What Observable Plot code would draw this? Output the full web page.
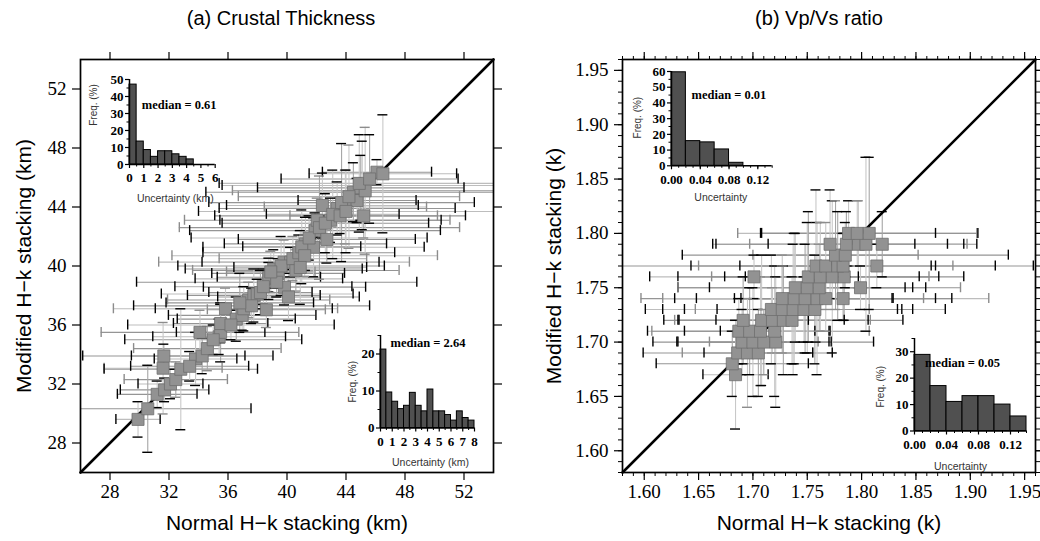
<!DOCTYPE html>
<html><head><meta charset="utf-8">
<script src="https://cdn.jsdelivr.net/npm/d3@7"></script>
<script src="https://cdn.jsdelivr.net/npm/@observablehq/plot@0.6"></script>
<style>
html,body{margin:0;padding:0;background:#fff;}
#root{position:relative;width:1040px;height:541px;overflow:hidden;background:#fff;}
#root > div{position:absolute;}
</style></head><body><div id="root"></div>
<script>
// ---------- Panel (a) Crustal thickness (km) ----------
const thickNormal = [29.9,30.56,31.2,31.6,31.65,31.7,32.1,32.46,32.8,33.8,34.25,34.1,35.4,35.5,35.5,35.83,36.56,36.96,37.07,37.4,37.75,37.98,38.2,38.6,38.77,38.77,39.1,39.8,39.83,40.1,40.24,40.6,41.25,41.8,41.9,42.05,42.4,42.95,43.4,43.96,44.5,44.75,45.1,45.2,46.1,46.5,45.0,45.3,38.4,39.4,39.6,40.4,40.8,41.0,41.5,42.2,42.6,43.1,43.7,44.2,44.9,45.6,43.6,41.2,39.3,37.6,36.2,34.6,33.4,40.9,42.7,38.9,44.0,36.8,35.0];
const thickModified = [29.6,30.32,31.3,33.07,33.9,31.6,32.0,32.3,33.0,33.7,33.9,35.5,35.2,35.5,36.1,37.1,36.4,36.65,37.1,37.7,38.0,38.1,38.2,37.03,39.13,39.24,39.8,40.26,38.56,37.9,40.26,39.7,41.5,41.27,42.4,43.1,44.1,43.1,43.9,44.0,45.0,44.44,45.46,43.4,46.36,46.25,45.3,45.1,38.6,39.5,40.0,40.5,40.9,41.3,41.9,42.6,42.9,43.5,44.3,44.7,45.6,45.9,43.4,40.7,38.9,37.3,36.0,34.4,33.2,39.9,41.8,39.6,43.7,37.5,35.0];
const thickNormalErr = [1.5,7.0,2.7,4.0,5.5,3.0,2.2,3.5,5.2,2.8,4.8,6.7,4.5,3.0,3.2,7.6,4.0,5.0,6.0,5.5,4.5,6.5,3.5,4.0,5.0,3.5,6.0,8.5,5.5,4.8,6.0,7.0,5.5,7.5,8.5,9.0,6.5,7.5,8.0,5.5,10.0,4.0,9.5,5.0,3.7,5.0,7.0,9.0,6.0,4.5,7.0,5.0,6.5,4.0,8.0,9.5,7.0,4.5,9.0,7.5,9.5,6.0,8.5,9.0,9.5,8.0,7.0,5.0,4.0,4.5,6.0,3.0,10.0,5.0,6.0];
const thickModifiedErr = [1.2,2.95,0.9,3.1,0.8,0.8,1.0,1.2,4.1,1.8,1.2,1.5,1.2,2.0,1.3,1.4,1.5,1.0,1.5,1.2,1.8,1.0,1.5,1.2,1.4,1.0,1.3,1.5,1.2,1.6,1.0,1.4,1.8,2.0,1.2,1.5,2.2,1.5,1.8,2.5,2.0,1.5,3.0,1.5,0.85,4.0,2.2,4.3,1.2,1.0,2.0,1.5,1.2,2.5,1.5,3.5,2.0,3.0,4.0,3.5,3.3,3.0,1.2,1.4,1.0,1.2,1.0,1.5,1.0,2.5,1.6,1.4,2.8,2.0,1.0];
const thickDomain = [26, 54];
const thickTicks = [28, 32, 36, 40, 44, 48, 52];

// ---------- Panel (b) Vp/Vs ratio ----------
const vpvsNormal = [1.684,1.681,1.686,1.695,1.705,1.690,1.700,1.710,1.721,1.687,1.697,1.707,1.720,1.691,1.708,1.718,1.728,1.736,1.717,1.727,1.737,1.747,1.757,1.727,1.738,1.748,1.759,1.767,1.783,1.739,1.750,1.761,1.799,1.701,1.751,1.762,1.773,1.784,1.758,1.767,1.778,1.783,1.814,1.776,1.785,1.771,1.786,1.797,1.804,1.819,1.788,1.796,1.807];
const vpvsModified = [1.67,1.68,1.69,1.69,1.69,1.70,1.70,1.70,1.70,1.71,1.71,1.71,1.71,1.72,1.72,1.72,1.72,1.72,1.73,1.73,1.73,1.73,1.73,1.74,1.74,1.74,1.74,1.74,1.74,1.75,1.75,1.75,1.75,1.76,1.76,1.76,1.76,1.76,1.77,1.77,1.77,1.77,1.77,1.78,1.78,1.79,1.79,1.79,1.79,1.79,1.80,1.80,1.80];
const vpvsNormalErr = [0.03,0.07,0.087,0.06,0.05,0.082,0.07,0.05,0.09,0.084,0.06,0.10,0.05,0.06,0.076,0.09,0.11,0.07,0.116,0.08,0.10,0.13,0.09,0.13,0.09,0.12,0.07,0.15,0.10,0.108,0.09,0.13,0.06,0.096,0.12,0.10,0.08,0.11,0.20,0.117,0.09,0.14,0.05,0.076,0.15,0.108,0.12,0.10,0.09,0.03,0.08,0.11,0.10];
const vpvsModifiedErr = [0.05,0.03,0.02,0.05,0.04,0.03,0.05,0.03,0.06,0.03,0.04,0.05,0.06,0.04,0.06,0.03,0.05,0.04,0.05,0.04,0.06,0.03,0.05,0.04,0.06,0.05,0.07,0.03,0.02,0.05,0.06,0.04,0.02,0.02,0.06,0.05,0.07,0.04,0.07,0.04,0.05,0.03,0.02,0.05,0.03,0.05,0.03,0.04,0.08,0.03,0.03,0.03,0.07];
const vpvsDomain = [1.58, 1.96];
const vpvsTicks = [1.60, 1.65, 1.70, 1.75, 1.80, 1.85, 1.90, 1.95];

// ---------- Inset histograms ----------
const histThickTopEdges = [0,0.5,1,1.5,2,2.5,3,3.5,4,4.5];
const histThickTopFreq = [47,13.5,8.5,4.5,7.8,7.8,6,4.5,3];
const histThickBotEdges = [0,0.5,1,1.5,2,2.5,3,3.5,4,4.5,5,5.5,6,6.5,7,7.5,8];
const histThickBotFreq = [21.2,9.6,7.1,5.1,6,9.5,6,4.5,10.4,4.5,4.5,3.5,2,4.5,2.7,2];
const histVpvsTopEdges = [0,0.02,0.04,0.06,0.08,0.10];
const histVpvsTopFreq = [59.5,15.7,14.9,10.4,1.9];
const histVpvsBotEdges = [0,0.02,0.04,0.06,0.08,0.10,0.12,0.14];
const histVpvsBotFreq = [28.8,17,11,13.2,13.2,10,5.5];

const root = document.getElementById("root");
function place(svg, left, top) {
  const div = document.createElement("div");
  div.style.left = left + "px";
  div.style.top = top + "px";
  div.appendChild(svg);
  root.appendChild(div);
}

const FRAME = 413, MT = 59, MB = 69;
const SANS = "Liberation Sans";
const NARROW = "Liberation Sans Narrow";
const SERIF = "Liberation Serif";

function mainPanel(o) {
  const [lo, hi] = o.domain;
  const pxPer = FRAME / (hi - lo);
  const cap = 5 / pxPer;
  const clamp = v => Math.max(lo, Math.min(hi, v));
  const pts = o.x.map((x, i) => ({x, y: o.y[i], ex: o.ex[i], ey: o.ey[i], i}));
  const hStroke = d => (d.i % 3 === 0 ? "#bdbdbd" : "#959595");
  const vStroke = d => (d.i % 3 === 1 ? "#a6a6a6" : "#c8c8c8");
  const capStroke = d => (d.i % 4 === 3 ? "#8c8c8c" : "#000000");
  const noLab = () => "";
  const marks = [
    Plot.ruleY(pts, {y: "y", x1: d => clamp(d.x - d.ex), x2: d => clamp(d.x + d.ex), stroke: hStroke, strokeWidth: 1.1}),
    Plot.ruleX(pts, {x: "x", y1: d => clamp(d.y - d.ey), y2: d => clamp(d.y + d.ey), stroke: vStroke, strokeWidth: 1.1}),
    Plot.ruleX(pts.filter(d => d.x - d.ex > lo), {x: d => d.x - d.ex, y1: d => d.y - cap, y2: d => d.y + cap, stroke: capStroke, strokeWidth: 1.4}),
    Plot.ruleX(pts.filter(d => d.x + d.ex < hi), {x: d => d.x + d.ex, y1: d => d.y - cap, y2: d => d.y + cap, stroke: capStroke, strokeWidth: 1.4}),
    Plot.ruleY(pts.filter(d => d.y - d.ey > lo), {y: d => d.y - d.ey, x1: d => d.x - cap, x2: d => d.x + cap, stroke: capStroke, strokeWidth: 1.4}),
    Plot.ruleY(pts.filter(d => d.y + d.ey < hi), {y: d => d.y + d.ey, x1: d => d.x - cap, x2: d => d.x + cap, stroke: capStroke, strokeWidth: 1.4}),
    Plot.line(o.domain, {x: d => d, y: d => d, stroke: "#000", strokeWidth: 2.6}),
    Plot.dot(pts, {x: "x", y: "y", symbol: "square", r: 6.8, fill: "#929292", stroke: "#6e6e6e", strokeWidth: 0.8}),
    Plot.frame({stroke: "#000", strokeWidth: 1.7}),
    Plot.axisX(o.ticks, {anchor: "bottom", tickSize: 8, tickPadding: 4, tickFormat: o.fmt, label: null, strokeWidth: 1.2}),
    Plot.axisX(o.ticks, {anchor: "top", tickSize: 8, tickFormat: noLab, label: null, strokeWidth: 1.2}),
    Plot.axisY(o.ticks, {anchor: "left", tickSize: 8, tickPadding: 6, tickFormat: o.fmt, label: null, strokeWidth: 1.2}),
    Plot.axisY(o.ticks, {anchor: "right", tickSize: 8, tickFormat: noLab, label: null, strokeWidth: 1.2}),
    Plot.text([o.title], {frameAnchor: "top", dy: -41, dx: o.titleDx, text: d => d, textAnchor: "middle", lineAnchor: "middle", fontFamily: SANS, fontSize: 20}),
    Plot.text([o.xlabel], {frameAnchor: "bottom", dy: 51, text: d => d, textAnchor: "middle", lineAnchor: "middle", fontFamily: SANS, fontSize: 21}),
    Plot.text([o.ylabel], {frameAnchor: "left", dx: o.ylabelDx, rotate: -90, text: d => d, textAnchor: "middle", lineAnchor: "middle", fontFamily: SANS, fontSize: 21})
  ];
  if (o.minor) {
    for (const anchor of ["top", "bottom"]) marks.push(Plot.axisX(o.minor, {anchor, tickSize: 4, tickFormat: noLab, label: null, strokeWidth: 1}));
    for (const anchor of ["left", "right"]) marks.push(Plot.axisY(o.minor, {anchor, tickSize: 4, tickFormat: noLab, label: null, strokeWidth: 1}));
  }
  const svg = Plot.plot({
    width: o.ml + FRAME + o.mr, height: MT + FRAME + MB,
    marginLeft: o.ml, marginRight: o.mr, marginTop: MT, marginBottom: MB,
    x: {domain: o.domain, axis: null},
    y: {domain: o.domain, axis: null},
    color: {type: "identity"},
    style: {fontFamily: SERIF, fontSize: "19px", background: "transparent", overflow: "visible", maxWidth: "none"},
    marks
  });
  place(svg, o.left, 0);
}

function inset(o) {
  const ml = 50, mr = 14, mt = 14, mb = 50;
  const fw = o.fx1 - o.fx0, fh = o.fy1 - o.fy0;
  const bars = o.freq.map((f, i) => ({a: o.edges[i], b: o.edges[i + 1], f}));
  const noLab = () => "";
  const svg = Plot.plot({
    width: ml + fw + mr, height: mt + fh + mb,
    marginLeft: ml, marginRight: mr, marginTop: mt, marginBottom: mb,
    x: {domain: o.xDomain, axis: null},
    y: {domain: o.yDomain, axis: null},
    style: {fontFamily: NARROW, fontSize: "13px", fontWeight: "bold", background: "transparent", overflow: "visible", maxWidth: "none"},
    marks: [
      Plot.rect(bars, {x1: "a", x2: "b", y1: () => 0, y2: "f", fill: "#505050", stroke: "#000", strokeWidth: 1}),
      Plot.ruleY([o.yDomain[0]], {stroke: "#000", strokeWidth: 1.5}),
      Plot.ruleX([o.xDomain[0]], {stroke: "#000", strokeWidth: 1.5}),
      Plot.axisY(o.yMajor, {anchor: "left", tickSize: 4, tickPadding: 2, label: null, strokeWidth: 1.2}),
      Plot.axisY(o.yMinor, {anchor: "left", tickSize: 2.5, tickFormat: noLab, label: null, strokeWidth: 1}),
      Plot.axisX(o.xMajor, {anchor: "bottom", tickSize: 4, tickPadding: 4.5, tickFormat: o.fmt, label: null, strokeWidth: 1.2}),
      Plot.axisX(o.xMinor, {anchor: "bottom", tickSize: 2.5, tickFormat: noLab, label: null, strokeWidth: 1}),
      Plot.text([o.median], {frameAnchor: "top-left", dx: o.medDx, dy: o.medDy, text: d => d, textAnchor: "middle", lineAnchor: "middle", fontFamily: SERIF, fontWeight: "bold", fontSize: 12.5, fill: "#000"}),
      Plot.text(["Freq. (%)"], {frameAnchor: "left", dx: o.freqDx, dy: o.freqDy, rotate: -90, text: d => d, textAnchor: "middle", lineAnchor: "middle", fontFamily: SANS, fontWeight: "normal", fontSize: 10, fill: "#333"}),
      Plot.text([o.xlabel], {frameAnchor: "bottom", dx: o.uncDx, dy: o.uncDy, text: d => d, textAnchor: "middle", lineAnchor: "middle", fontFamily: SANS, fontWeight: "normal", fontSize: 10.5, fill: "#333"})
    ]
  });
  place(svg, o.fx0 - ml, o.fy0 - mt);
}

mainPanel({
  left: 0, ml: 80, mr: 27,
  x: thickNormal, y: thickModified, ex: thickNormalErr, ey: thickModifiedErr,
  domain: thickDomain, ticks: thickTicks, fmt: d => String(d),
  title: "(a) Crustal Thickness", titleDx: -6,
  xlabel: "Normal H\u2212k stacking (km)", ylabel: "Modified H\u2212k stacking (km)", ylabelDx: -56
});
mainPanel({
  left: 520, ml: 102, mr: 5,
  x: vpvsNormal, y: vpvsModified, ex: vpvsNormalErr, ey: vpvsModifiedErr,
  domain: vpvsDomain, ticks: vpvsTicks, fmt: d3.format(".2f"),
  minor: d3.range(158, 197).map(v => v / 100),
  title: "(b) Vp/Vs ratio", titleDx: -10,
  xlabel: "Normal H\u2212k stacking (k)", ylabel: "Modified H\u2212k stacking (k)", ylabelDx: -68
});

const half = n => d3.range(1, n * 2, 2).map(v => v / 2);
const hund = (a, b) => d3.range(a, b + 1).map(v => v / 100);

inset({
  fx0: 129.3, fx1: 215, fy0: 79.3, fy1: 164.3,
  xDomain: [0, 6], yDomain: [0, 50], edges: histThickTopEdges, freq: histThickTopFreq,
  yMajor: [0, 10, 20, 30, 40, 50], yMinor: [5, 15, 25, 35, 45],
  xMajor: [0, 1, 2, 3, 4, 5, 6], xMinor: half(6), fmt: d => String(d),
  median: "median = 0.61", medDx: 49.7, medDy: 25.7,
  freqDx: -36, freqDy: -17, xlabel: "Uncertainty (km)", uncDx: 3, uncDy: 34
});
inset({
  fx0: 380, fx1: 474, fy0: 334.5, fy1: 427,
  xDomain: [0, 8], yDomain: [0, 25], edges: histThickBotEdges, freq: histThickBotFreq,
  yMajor: [0, 10, 20], yMinor: [5, 15, 25],
  xMajor: [0, 1, 2, 3, 4, 5, 6, 7, 8], xMinor: half(8), fmt: d => String(d),
  median: "median = 2.64", medDx: 47.5, medDy: 7.5,
  freqDx: -28, freqDy: 0, xlabel: "Uncertainty (km)", uncDx: 3, uncDy: 35
});
inset({
  fx0: 671, fx1: 771.7, fy0: 71, fy1: 165.3,
  xDomain: [0, 0.14], yDomain: [0, 60], edges: histVpvsTopEdges, freq: histVpvsTopFreq,
  yMajor: [0, 10, 20, 30, 40, 50, 60], yMinor: [5, 15, 25, 35, 45, 55],
  xMajor: [0, 0.04, 0.08, 0.12], xMinor: hund(1, 14), fmt: d3.format(".2f"),
  median: "median = 0.01", medDx: 57.5, medDy: 24,
  freqDx: -34, freqDy: -1, xlabel: "Uncertainty", uncDx: -1, uncDy: 32
});
inset({
  fx0: 914, fx1: 1026, fy0: 337.5, fy1: 430,
  xDomain: [0, 0.14], yDomain: [0, 35], edges: histVpvsBotEdges, freq: histVpvsBotFreq,
  yMajor: [0, 10, 20, 30], yMinor: [5, 15, 25, 35],
  xMajor: [0, 0.04, 0.08, 0.12], xMinor: hund(1, 14), fmt: d3.format(".2f"),
  median: "median = 0.05", medDx: 48, medDy: 24.5,
  freqDx: -34, freqDy: 2, xlabel: "Uncertainty", uncDx: -10, uncDy: 36
});
</script>
</body></html>
